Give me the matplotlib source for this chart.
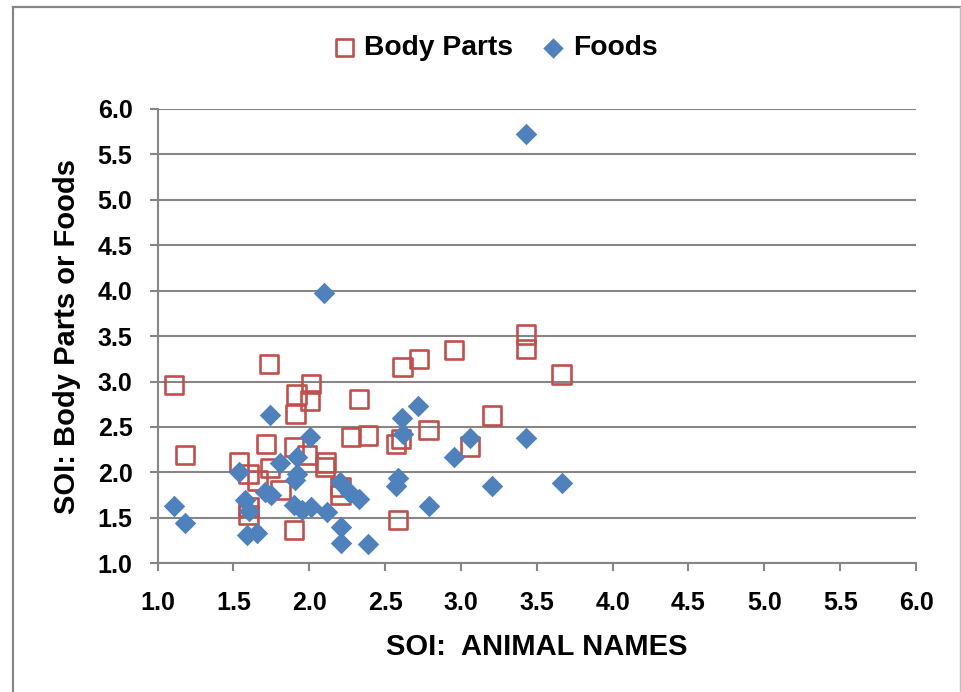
import matplotlib
matplotlib.use("Agg")
import matplotlib.pyplot as plt
from matplotlib.lines import Line2D

plt.rcParams['font.family'] = ['Liberation Sans', 'DejaVu Sans']
plt.rcParams['font.weight'] = 'bold'

# SOI values
body_x = [1.11, 1.18, 1.735, 2.01, 1.917, 2.005, 1.91, 1.717, 1.90, 1.987,
          1.537, 1.60, 1.658, 1.74, 1.81, 2.11, 2.105, 1.60, 1.60, 1.90,
          2.207, 2.207, 3.43, 3.43, 2.722, 2.616, 2.956, 3.664, 2.327, 3.204,
          2.276, 2.386, 2.787, 2.605, 2.572, 3.06, 2.586]
body_y = [2.96, 2.19, 3.19, 2.97, 2.856, 2.79, 2.64, 2.316, 2.28, 2.19,
          2.114, 1.98, 1.91, 2.05, 1.81, 2.11, 2.06, 1.62, 1.53, 1.365,
          1.84, 1.75, 3.52, 3.357, 3.248, 3.163, 3.35, 3.076, 2.81, 2.626,
          2.388, 2.407, 2.47, 2.37, 2.316, 2.286, 1.475]

food_x = [1.11, 1.18, 1.74, 2.003, 1.537, 1.805, 1.917, 1.917, 1.904, 1.71,
          1.75, 1.577, 1.60, 1.59, 1.658, 1.90, 1.955, 2.01, 2.118, 2.2,
          2.21, 2.21, 2.72, 2.61, 2.616, 3.06, 3.43, 2.957, 2.584, 2.573,
          3.204, 3.664, 2.787, 2.27, 2.33, 2.386, 3.43, 2.097]
food_y = [1.63, 1.445, 2.63, 2.39, 2.004, 2.107, 2.17, 1.987, 1.913, 1.78,
          1.75, 1.694, 1.58, 1.31, 1.33, 1.64, 1.585, 1.62, 1.566, 1.89,
          1.40, 1.22, 2.73, 2.60, 2.425, 2.38, 2.38, 2.17, 1.943, 1.85,
          1.85, 1.884, 1.628, 1.77, 1.71, 1.21, 5.72, 3.975]

ticks = [1.0, 1.5, 2.0, 2.5, 3.0, 3.5, 4.0, 4.5, 5.0, 5.5, 6.0]
tick_labels = ['%.1f' % t for t in ticks]

grey = '#868686'
red = '#C0504D'
blue = '#4F81BD'

fig = plt.figure(figsize=(9.61, 6.92), dpi=100)
ax = fig.add_axes([0.1639, 0.186, 0.7893, 0.6565])

ax.scatter(body_x, body_y, marker='s', s=175, facecolors='none',
           edgecolors=red, linewidths=1.9, label='Body Parts', zorder=3)
ax.scatter(food_x, food_y, marker='D', s=120, color=blue, linewidths=0,
           label='Foods', zorder=4)

ax.set_xlim(1.0, 6.0)
ax.set_ylim(1.0, 6.0)
ax.set_xticks(ticks)
ax.set_xticklabels(tick_labels)
ax.set_yticks(ticks)
ax.set_yticklabels(tick_labels)

ax.yaxis.grid(True, color=grey, linewidth=1.5)
ax.set_axisbelow(True)
for side in ['top', 'right']:
    ax.spines[side].set_visible(False)
for side in ['left', 'bottom']:
    ax.spines[side].set_color(grey)
    ax.spines[side].set_linewidth(1.5)
ax.tick_params(axis='both', direction='out', length=6, width=1.5,
               color=grey, labelsize=18, pad=12)
ax.tick_params(axis='x', pad=14)

ax.set_xlabel('SOI:  ANIMAL NAMES', fontsize=21, fontweight='bold', labelpad=13)
ax.set_ylabel('SOI: Body Parts or Foods', fontsize=21, fontweight='bold', labelpad=12)

fig.legend(loc='center', bbox_to_anchor=(494 / 961, 1 - 48 / 692), ncol=2,
           frameon=False, fontsize=20.3, handletextpad=0.2, columnspacing=0.9,
           handlelength=1.0, markerscale=0.95)

# chart frame
fig.add_artist(Line2D([13 / 961, 13 / 961], [0, 1 - 7 / 692],
                      transform=fig.transFigure, color=grey, linewidth=1.6))
fig.add_artist(Line2D([13 / 961, 959.5 / 961], [1 - 7 / 692, 1 - 7 / 692],
                      transform=fig.transFigure, color=grey, linewidth=1.6))
fig.add_artist(Line2D([959.5 / 961, 959.5 / 961], [0, 1 - 7 / 692],
                      transform=fig.transFigure, color='#BFBFBF', linewidth=1.0))

fig.savefig('out.png', dpi=100)
